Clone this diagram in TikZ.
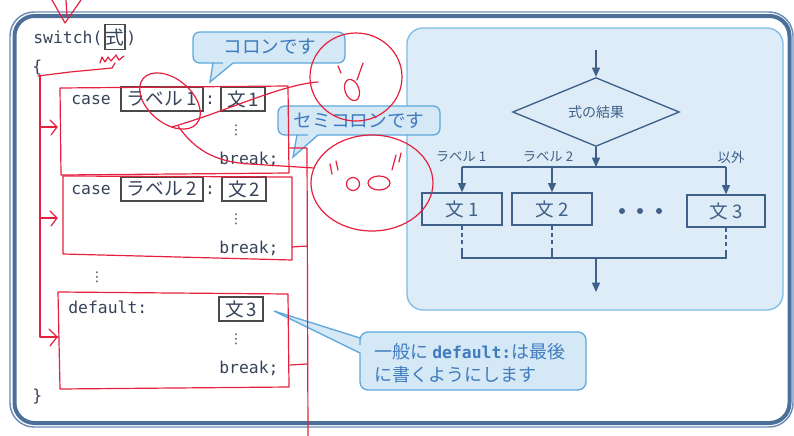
\documentclass[tikz,border=0pt]{standalone}
\usepackage{fontspec}
\setmainfont{Noto Sans CJK JP}
\newfontfamily\jpfont{Noto Sans CJK JP}
\newfontfamily\monofont{DejaVu Sans Mono}
\newfontfamily\symfont{DejaVu Sans}
\usetikzlibrary{shapes.geometric,arrows.meta}
\definecolor{framethick}{HTML}{4B6F98}
\definecolor{framethin}{HTML}{6C8DB5}
\definecolor{codecol}{HTML}{36445A}
\definecolor{boxcol}{HTML}{4A4A4A}
\definecolor{panelfill}{HTML}{DDECF7}
\definecolor{panelline}{HTML}{7DBCE6}
\definecolor{flowcol}{HTML}{3F6088}
\definecolor{callfill}{HTML}{D4E8F6}
\definecolor{callline}{HTML}{5DA9DD}
\definecolor{calltxt}{HTML}{3F7BBE}
\definecolor{redc}{HTML}{E5213F}
\tikzset{
  code/.style={font=\monofont\fontsize{12.3}{14}\selectfont, text=codecol, inner sep=0pt, anchor=base west},
  codebox/.style={draw=boxcol, line width=0.8pt, font=\jpfont\fontsize{14}{16}\selectfont, text=codecol, inner sep=1pt, minimum height=18pt},
  vdots/.style={font=\symfont\fontsize{10}{12}\selectfont, text=codecol, inner sep=0pt},
  flowline/.style={draw=flowcol, line width=1pt},
  flowarrow/.style={flowline, -{Triangle[length=7pt,width=6pt]}},
  flowbox/.style={draw=flowcol, line width=1pt, fill=panelfill, minimum width=60pt, minimum height=24pt, inner sep=0pt, font=\jpfont\fontsize{14}{16}\selectfont, text=flowcol},
  flowlabel/.style={font=\jpfont\fontsize{10}{12}\selectfont, text=flowcol, inner sep=0pt},
  flowdot/.style={circle, fill=flowcol, inner sep=0pt, minimum size=4.5pt},
  bubble/.style={fill=callfill, draw=callline, line width=1pt},
  bubbletext/.style={font=\jpfont\fontsize{14}{16}\selectfont, text=calltxt, inner sep=0pt},
  redink/.style={draw=redc, line width=0.9pt, line cap=round, line join=round},
}
\begin{document}
\begin{tikzpicture}[x=0.75pt,y=-0.75pt]
\useasboundingbox (0,0) rectangle (794,436);
\fill[white] (0,0) rectangle (794,436);

% outer frame
\draw[framethin, line width=1.1pt, rounded corners=18pt] (10,12) rectangle (793,427);
\draw[framethick, line width=3pt, rounded corners=15pt] (14.5,16) rectangle (789.5,423);

% right panel
\draw[fill=panelfill, draw=panelline, line width=1pt, rounded corners=12pt] (407,28) rectangle (783,310);

% flowchart
\coordinate (start) at (596,50);
\node[diamond, flowline, fill=panelfill, minimum width=125pt, minimum height=38pt, inner sep=0pt,
      font=\jpfont\fontsize{10.5}{12}\selectfont, text=flowcol] (dec) at (596,112) {式の結果};
\coordinate (split) at (596,167);
\node[flowbox] (f1) at (462,209) {文\hspace{3pt}1};
\node[flowbox] (f2) at (552,209) {文\hspace{3pt}2};
\node[flowbox, minimum width=58.5pt] (f3) at (726,211) {文\hspace{3pt}3};
\node[flowlabel] (l1) at (461,157) {ラベル 1};
\node[flowlabel] (l2) at (548,157) {ラベル 2};
\node[flowlabel] (l3) at (731,157) {以外};
\node[flowdot] (d1) at (622,211) {};
\node[flowdot] (d2) at (640,211) {};
\node[flowdot] (d3) at (659,211) {};
\coordinate (ylow) at (0,250);
\coordinate (yjoin) at (596,258);
\coordinate (fend) at (596,292);
\draw[flowarrow] (start) -- (dec.north);
\draw[flowarrow] (dec.south) -- (split);
\draw[flowline] (f1.north |- split) -- (f3.north |- split);
\draw[flowarrow] (f1.north |- split) -- (f1.north);
\draw[flowarrow] (f2.north |- split) -- (f2.north);
\draw[flowarrow] (f3.north |- split) -- (f3.north);
\draw[flowline, dash pattern=on 3pt off 2.5pt] (f1.south) -- (f1.south |- ylow);
\draw[flowline, dash pattern=on 3pt off 2.5pt] (f2.south) -- (f2.south |- ylow);
\draw[flowline, dash pattern=on 3pt off 2.5pt] (f3.south) -- (f3.south |- ylow);
\draw[flowline] (f1.south |- ylow) -- (f1.south |- yjoin) -- (f3.south |- yjoin) -- (f3.south |- ylow);
\draw[flowline] (f2.south |- ylow) -- (f2.south |- yjoin);
\draw[flowarrow] (yjoin) -- (fend);

% code
\node[code] (sw) at (33,43) {switch(};
\node[codebox, minimum width=15pt, minimum height=19pt, inner sep=0.5pt] (expr) at (115,37) {式};
\node[code] (swr) at (126,43) {)};
\node[code] (ob) at (32,72) {\{};

\node[code] (case1) at (71,104) {case};
\node[codebox, minimum width=61.5pt] (lab1) at (162,99) {ラベル\hspace{3pt}1};
\node[code, anchor=base] (col1) at (210,104) {:};
\node[codebox, minimum width=33pt] (st1) at (243,99) {文\hspace{2pt}1};
\node[vdots] (vd1) at (236,130) {⋮};
\node[code] (br1) at (219,164) {break;};

\node[code] (case2) at (71,194) {case};
\node[codebox, minimum width=61.5pt] (lab2) at (162,189) {ラベル\hspace{3pt}2};
\node[code, anchor=base] (col2) at (210,194) {:};
\node[codebox, minimum width=33pt] (st2) at (244,189) {文\hspace{2pt}2};
\node[vdots] (vd2) at (236,219) {⋮};
\node[code] (br2) at (219,253) {break;};

\node[vdots] (vdm) at (97,277) {⋮};

\node[code] (dflt) at (68,313) {default:};
\node[codebox, minimum width=33pt] (st3) at (241,309) {文\hspace{2pt}3};
\node[vdots] (vd3) at (236,339) {⋮};
\node[code] (br3) at (219,373) {break;};
\node[code] (cb) at (32,401) {\}};

% callouts
\path[bubble] (223,63) [rounded corners=5pt] -- (193,63) -- (193,32) -- (345,32) -- (345,63) -- (290,63)
   [sharp corners] -- (233,63) -- (210,82) -- (213,63) -- cycle;
\node[bubbletext] (t1) at (270,47) {コロンです};

\path[bubble] (308,135) [rounded corners=5pt] -- (278,135) -- (278,106) -- (440,106) -- (440,135) -- (380,135)
   [sharp corners] -- (318,135) -- (293,157) -- (297,135) -- cycle;
\node[bubbletext] (t2) at (359,121) {セミコロンです};

\path[bubble] (360,345) [rounded corners=6pt] -- (360,332) -- (586,332) -- (586,390) -- (360,390) -- (360,370)
   [sharp corners] -- (360,353) -- (274,311) -- (360,338) -- cycle;
\node[bubbletext, anchor=base west, font=\jpfont\fontsize{13.5}{16}\selectfont] (t3a) at (374,358)
   {一般に {\monofont\fontsize{12.3}{14}\selectfont\bfseries default:}は最後};
\node[bubbletext, anchor=base west, font=\jpfont\fontsize{13.5}{16}\selectfont] (t3b) at (374,381)
   {に書くようにします};

% red handwritten marks
\draw[redink] (52,0) -- (65,23) -- (81,0);
\draw[redink] (66,0) -- (67,16);
\draw[redink] (100,63) -- (102,57) -- (105,62) -- (108,57) -- (111,61) -- (116,55) -- (119,60) -- (124,56);
\draw[redink] (38,76) -- (70,72) -- (112,68) -- (115,63);
\draw[redink] (40,76) -- (40,337) -- (58,337);
\draw[redink] (40,127) -- (57,127);
\draw[redink] (50,120) -- (57,127) -- (51,135);
\draw[redink] (40,218) -- (57,218);
\draw[redink] (50,211) -- (57,218) -- (51,226);
\draw[redink] (49,329) -- (57,337) -- (50,346);
\draw[redink] (60,88) -- (288,86) -- (289,173) -- (61,175) -- cycle;
\draw[redink] (63,176) -- (292,177) -- (292,260) -- (63,254) -- cycle;
\draw[redink] (58,292) -- (288,294) -- (289,387) -- (60,389) -- cycle;
\draw[redink] (290,148) -- (307,148) -- (308,436);
\draw[redink] (292,247) -- (307,246);
\draw[redink] (290,365) -- (307,364);
% circle with face near "コロンです"
\draw[redink] (356,77) ellipse (46 and 44);
\draw[redink] (338,66) -- (341,73);
\draw[redink, rotate around={20:(352,90)}] (352,90) ellipse (7 and 11);
\draw[redink] (357,80) -- (363,63);
% loop around label 1 and its strokes
\draw[redink, rotate around={-40:(170,101)}] (170,101) ellipse (35 and 22);
\draw[redink] (172,127) .. controls (230,110) and (280,85) .. (318,82);
\draw[redink] (178,126) .. controls (195,150) and (215,162) .. (250,164) -- (314,168);
% big ellipse with face
\draw[redink] (372,183) ellipse (61 and 48);
\draw[redink] (330,164) -- (332,174);
\draw[redink] (336,161) -- (338,170);
\draw[redink] (353,184) circle (6.5);
\draw[redink] (379,183) ellipse (11 and 7);
\draw[redink] (396,155) -- (392,170);
\draw[redink] (401,153) -- (399,162);
\end{tikzpicture}
\end{document}
